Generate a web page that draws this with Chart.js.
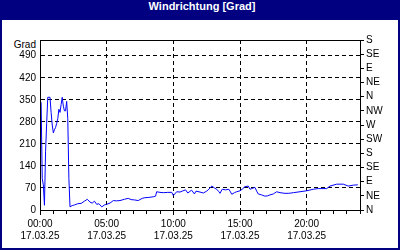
<!DOCTYPE html>
<html><head><meta charset="utf-8">
<script src="https://cdn.jsdelivr.net/npm/chart.js@4/dist/chart.umd.min.js"></script>
<style>
html,body{margin:0;padding:0;background:#fff}
#frame{position:relative;width:400px;height:250px;background:#000080;overflow:hidden}
#inner{position:absolute;left:2px;top:20px;width:396px;height:228px;background:#fff}
#title{position:absolute;left:0;top:0;width:404px;height:20px;line-height:18px;text-align:center;color:#fff;font:bold 11px 'Liberation Sans',sans-serif}
#grad{position:absolute;right:364px;top:39px;font:10px 'Liberation Sans',sans-serif;line-height:12px;color:#000}
canvas{position:absolute;left:0;top:0}
</style></head><body>
<div id="frame"><div id="inner"></div><div id="title">Windrichtung [Grad]</div><div id="grad">Grad</div>
<canvas id="c" width="400" height="250"></canvas></div>
<script>
const timeLabels = ["00:00","00:05","00:10","00:15","00:20","00:25","00:30","00:35","00:40","00:45","00:50","00:55",
"01:00","01:05","01:10","01:15","01:20","01:25","01:30","01:35","01:40","01:45","01:50","01:55",
"02:00","02:05","02:10","02:15","02:25","02:35","02:50","03:05","03:20","03:33","03:45","03:55",
"04:05","04:15","04:25","04:38","04:50","05:00","05:15","05:30","05:45","06:00","06:20","06:37",
"06:50","07:05","07:22","07:40","07:52","08:10","08:30","08:40","08:45","09:00","09:15","09:35",
"09:53","10:00","10:15","10:30","10:40","10:55","11:05","11:22","11:35","11:42","12:00","12:15",
"12:30","12:40","12:53","13:05","13:15","13:25","13:30","13:40","13:55","14:10","14:15","14:23",
"14:35","14:45","15:00","15:10","15:22","15:37","15:45","15:53","16:07","16:15","16:22","16:37",
"16:52","17:05","17:15","17:30","17:45","18:00","18:22","18:40","19:00","19:30","20:00","20:30",
"20:52","21:30","21:45","22:15","22:45","23:07","23:30","23:50"];
const windDir = [350,340,100,80,15,185,275,358,358,358,310,270,
245,255,262,275,290,320,310,335,358,330,315,315,
345,290,100,10,14,16,20,21,28,34,25,22,
28,18,20,10,16,18,22,30,29,30,34,37,
33,32,30,37,39,40,42,44,58,56,55,56,
56,46,58,57,60,64,54,63,51,60,57,54,
60,66,76,70,66,58,53,66,64,66,60,50,
55,58,61,66,74,76,66,68,72,60,51,48,
44,45,48,51,58,55,53,53,55,58,61,66,
68,68,76,82,82,76,79,80];
const leftTicks = [0,70,140,210,280,350,420,490];
const compassLabels = ['N','NE','E','SE','S','SW','W','NW','N','NE','E','SE','S'];
const compassStep = 45;
const dateLabel = '17.03.25';

const toMin = s => { const p = s.split(':').map(Number); return p[0]*60 + p[1]; };
const points = timeLabels.map((t,i) => ({x: toMin(t), y: windDir[i]}));
const isMajor = v => v % 300 === 0 && v < 1440;
const pad2 = n => String(n).padStart(2,'0');

Chart.defaults.font.family = "'Liberation Sans', sans-serif";
Chart.defaults.font.size = 10;
Chart.defaults.color = '#000';

const frameTop = {
  id: 'frameTop',
  afterDraw(chart) {
    const {ctx, chartArea: a} = chart;
    ctx.save();
    ctx.setLineDash([]);
    ctx.strokeStyle = '#000';
    ctx.lineWidth = 1;
    ctx.beginPath();
    ctx.moveTo(a.left, a.top + 0.5);
    ctx.lineTo(a.right + 1, a.top + 0.5);
    ctx.moveTo(a.left + 0.5, a.top);
    ctx.lineTo(a.left + 0.5, a.bottom);
    ctx.moveTo(a.right + 0.5, a.top);
    ctx.lineTo(a.right + 0.5, a.bottom);
    ctx.moveTo(a.left, a.bottom + 0.5);
    ctx.lineTo(a.right + 1, a.bottom + 0.5);
    ctx.stroke();
    ctx.restore();
  }
};

new Chart(document.getElementById('c'), {
  type: 'line',
  data: { datasets: [{
    data: points, borderColor: '#0000ff', borderWidth: 1, pointRadius: 0,
    tension: 0, fill: false, xAxisID: 'x', yAxisID: 'y'
  }]},
  options: {
    responsive: false, animation: false,
    layout: { padding: { top: 40, left: 0, right: 0, bottom: 0 } },
    plugins: { legend: { display: false }, tooltip: { enabled: false } },
    scales: {
      x: {
        type: 'linear', position: 'bottom', min: 0, max: 1440,
        afterFit: s => { s.height = 40; },
        border: { color: '#000', width: 1, dash: [4,3] },
        grid: {
          color: c => (c.tick && isMajor(c.tick.value) && c.tick.value > 0) ? '#000' : 'rgba(0,0,0,0)',
          tickLength: 5, tickColor: '#000',
          tickBorderDash: c => (c.tick && isMajor(c.tick.value)) ? [5,0] : [3,20]
        },
        ticks: {
          stepSize: 60, autoSkip: false, maxRotation: 0, minRotation: 0, padding: 3,
          callback: v => isMajor(v) ? [pad2(v/60) + ':00', dateLabel] : ''
        }
      },
      y: {
        position: 'left', min: 0, max: 540,
        afterFit: s => { s.width = 40; },
        afterBuildTicks: s => { s.ticks = leftTicks.map(v => ({value: v})); },
        border: { color: '#000', width: 1, dash: [4,3] },
        grid: { color: c => (c.tick && c.tick.value > 0) ? '#000' : 'rgba(0,0,0,0)', drawTicks: false },
        ticks: { padding: 4, autoSkip: false }
      },
      y2: {
        position: 'right', min: 0, max: 540,
        afterFit: s => { s.width = 40; },
        afterBuildTicks: s => { s.ticks = compassLabels.map((l,i) => ({value: i*compassStep})); },
        border: { color: '#000', width: 1 },
        grid: { drawOnChartArea: false, tickLength: 4, color: '#000' },
        ticks: { padding: 2, autoSkip: false, callback: (v,i) => compassLabels[i] }
      }
    }
  },
  plugins: [frameTop]
});
</script>
</body></html>
